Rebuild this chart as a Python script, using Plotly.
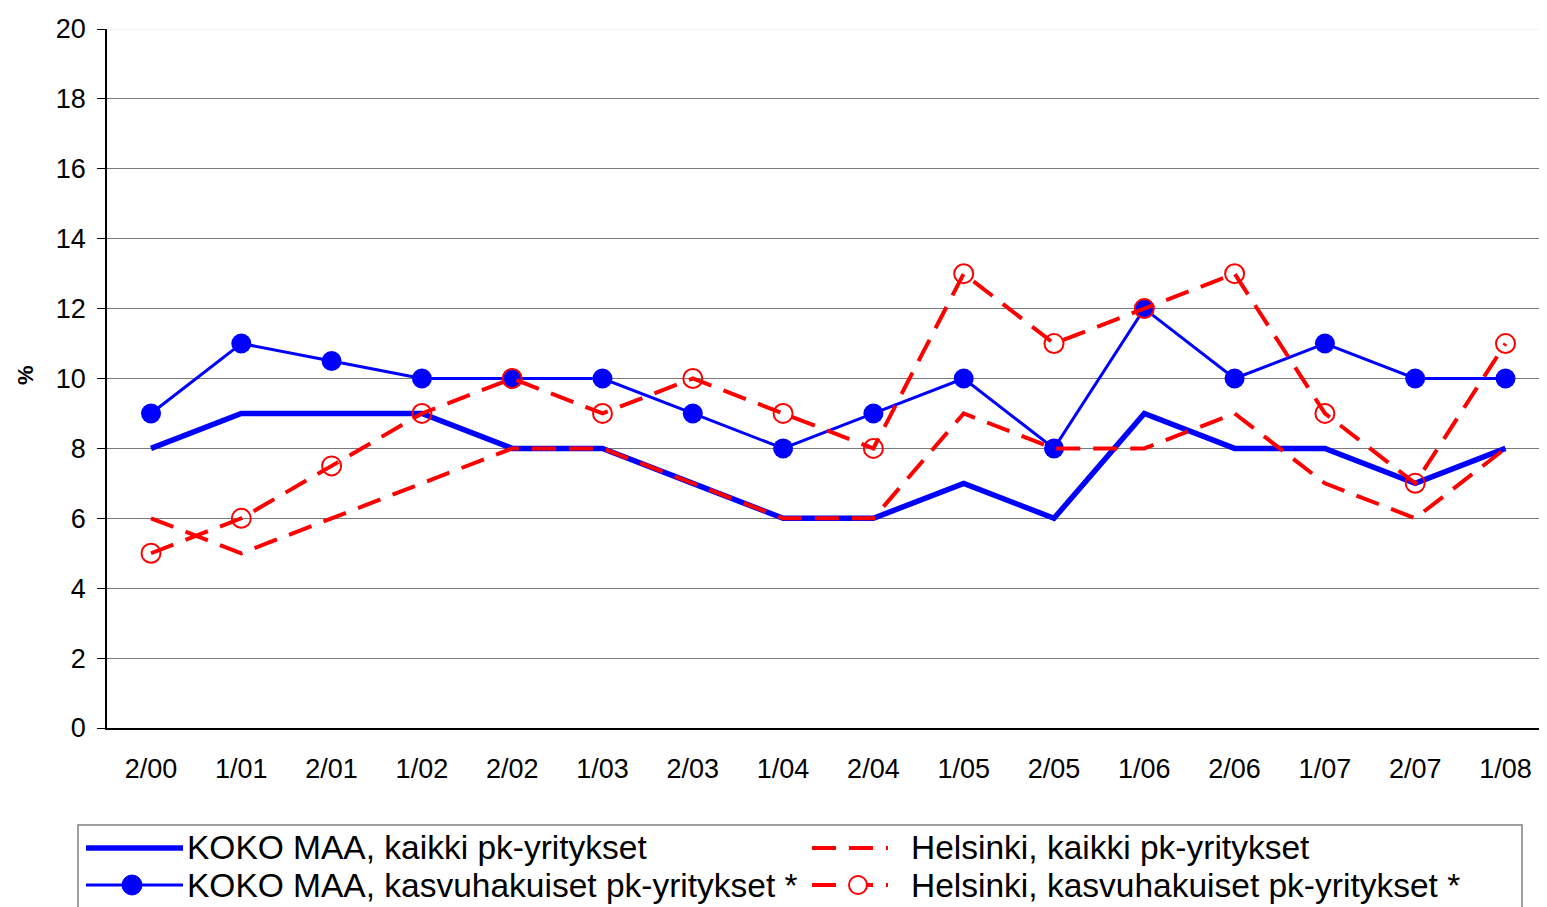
import plotly.graph_objects as go

# half-year periods
periods = ['2/00', '1/01', '2/01', '1/02', '2/02', '1/03', '2/03', '1/04',
           '2/04', '1/05', '2/05', '1/06', '2/06', '1/07', '2/07', '1/08']

koko_kaikki = [8, 9, 9, 9, 8, 8, 7, 6, 6, 7, 6, 9, 8, 8, 7, 8]
koko_kasvu = [9, 11, 10.5, 10, 10, 10, 9, 8, 9, 10, 8, 12, 10, 11, 10, 10]
hki_kaikki = [6, 5, 6, 7, 8, 8, 7, 6, 6, 9, 8, 8, 9, 7, 6, 8]
hki_kasvu = [5, 6, 7.5, 9, 10, 9, 10, 9, 8, 13, 11, 12, 13, 9, 7, 11]

names = ['KOKO MAA, kaikki pk-yritykset',
         'KOKO MAA, kasvuhakuiset pk-yritykset *',
         'Helsinki, kaikki pk-yritykset',
         'Helsinki, kasvuhakuiset pk-yritykset *']

BLUE = '#0000ff'
RED = '#ff0000'
DASH = '24px,13px'
FONT = 'Liberation Sans, Arial, sans-serif'

# page body adds 8px, so work in screen pixels and shift back
OFF = 8
W, H = 1547, 907
L, R, T, B = 107 - OFF, 0, 29 - OFF, 907 - 728 + OFF
PW = W - L - R
PH = H - T - B
STEP = 90.3  # px per category


def px(x):
    return (x - OFF - L) / PW


def py(y):
    return (H - B - (y - OFF)) / PH


fig = go.Figure()

fig.add_trace(go.Scatter(x=periods, y=koko_kaikki, mode='lines', name=names[0],
                         line=dict(color=BLUE, width=5.5)))
fig.add_trace(go.Scatter(x=periods, y=koko_kasvu, mode='lines+markers', name=names[1],
                         line=dict(color=BLUE, width=3),
                         marker=dict(color=BLUE, size=20)))
fig.add_trace(go.Scatter(x=periods, y=hki_kaikki, mode='lines', name=names[2],
                         line=dict(color=RED, width=4, dash=DASH)))
fig.add_trace(go.Scatter(x=periods, y=hki_kasvu, mode='lines+markers', name=names[3],
                         line=dict(color=RED, width=4, dash=DASH),
                         marker=dict(symbol='circle-open', color=RED, size=19,
                                     line=dict(width=2, color=RED))))

shapes = []
# faint top border at 20
shapes.append(dict(type='line', xref='paper', yref='y', x0=0, x1=1, y0=20, y1=20,
                   line=dict(color='#f0f0f0', width=1.5)))

# gradient strip at the top right corner
grad = ['#f8fafd', '#f1f4fb', '#e9eef9', '#dde6f6', '#cfdff3', '#c0d6f0',
        '#b4ceee', '#abc9ec', '#a9c8ec', '#adcaeb', '#b1cdec', '#b5d0ec']
gx0 = 1100
gstep = (W - gx0) / len(grad)
for i, c in enumerate(grad):
    shapes.append(dict(type='rect', xref='paper', yref='paper',
                       x0=px(gx0 + i * gstep), x1=px(gx0 + (i + 1) * gstep + 1),
                       y0=py(0), y1=py(6), line=dict(width=0), fillcolor=c))

# legend box
shapes.append(dict(type='rect', xref='paper', yref='paper',
                   x0=px(78), x1=px(1522), y0=py(825), y1=py(930),
                   line=dict(color='#7f7f7f', width=1.5), fillcolor='white'))

rows = [848, 885]
# column 1 samples
shapes.append(dict(type='line', xref='paper', yref='paper', x0=px(86), x1=px(183),
                   y0=py(rows[0]), y1=py(rows[0]), line=dict(color=BLUE, width=5.5)))
shapes.append(dict(type='line', xref='paper', yref='paper', x0=px(86), x1=px(183),
                   y0=py(rows[1]), y1=py(rows[1]), line=dict(color=BLUE, width=3)))
shapes.append(dict(type='circle', xref='paper', yref='paper', x0=px(122), x1=px(142),
                   y0=py(rows[1] - 10), y1=py(rows[1] + 10),
                   line=dict(color=BLUE, width=1), fillcolor=BLUE))
# column 2 samples
shapes.append(dict(type='line', xref='paper', yref='paper', x0=px(812), x1=px(888),
                   y0=py(rows[0]), y1=py(rows[0]), line=dict(color=RED, width=4, dash=DASH)))
shapes.append(dict(type='line', xref='paper', yref='paper', x0=px(812), x1=px(888),
                   y0=py(rows[1]), y1=py(rows[1]), line=dict(color=RED, width=4, dash=DASH)))
shapes.append(dict(type='circle', xref='paper', yref='paper', x0=px(849), x1=px(867),
                   y0=py(rows[1] - 9), y1=py(rows[1] + 9),
                   line=dict(color=RED, width=2), fillcolor='white'))

annotations = []
for name, x, y in [(names[0], 185, rows[0]), (names[1], 185, rows[1]),
                   (names[2], 909, rows[0]), (names[3], 909, rows[1])]:
    annotations.append(dict(text=name, xref='paper', yref='paper', x=px(x), y=py(y),
                            xanchor='left', yanchor='middle', showarrow=False,
                            font=dict(family=FONT, size=33.5, color='black')))
annotations.append(dict(text='<b>%</b>', xref='paper', yref='paper', x=px(25), y=py(375),
                        textangle=-90, showarrow=False, xanchor='center', yanchor='middle',
                        font=dict(family=FONT, size=22, color='black')))

fig.update_layout(
    width=W, height=H,
    margin=dict(l=L, r=R, t=T, b=B),
    paper_bgcolor='white', plot_bgcolor='white',
    showlegend=False,
    font=dict(family=FONT, size=27, color='black'),
    shapes=shapes, annotations=annotations,
)
x_lo = -44 / STEP
fig.update_xaxes(range=[x_lo, x_lo + PW / STEP], showgrid=False, showline=True,
                 linecolor='black', linewidth=1.5, ticks='', ticklabelstandoff=16,
                 zeroline=False, tickfont=dict(size=27))
fig.update_yaxes(range=[0, 20], tickvals=list(range(0, 21, 2)), showgrid=True,
                 gridcolor='#7a7a7a', gridwidth=1, showline=True, linecolor='black',
                 linewidth=1.5, ticks='outside', ticklen=8, tickcolor='black',
                 ticklabelstandoff=6, zeroline=False, tickfont=dict(size=27))

fig.write_html("out.html")
